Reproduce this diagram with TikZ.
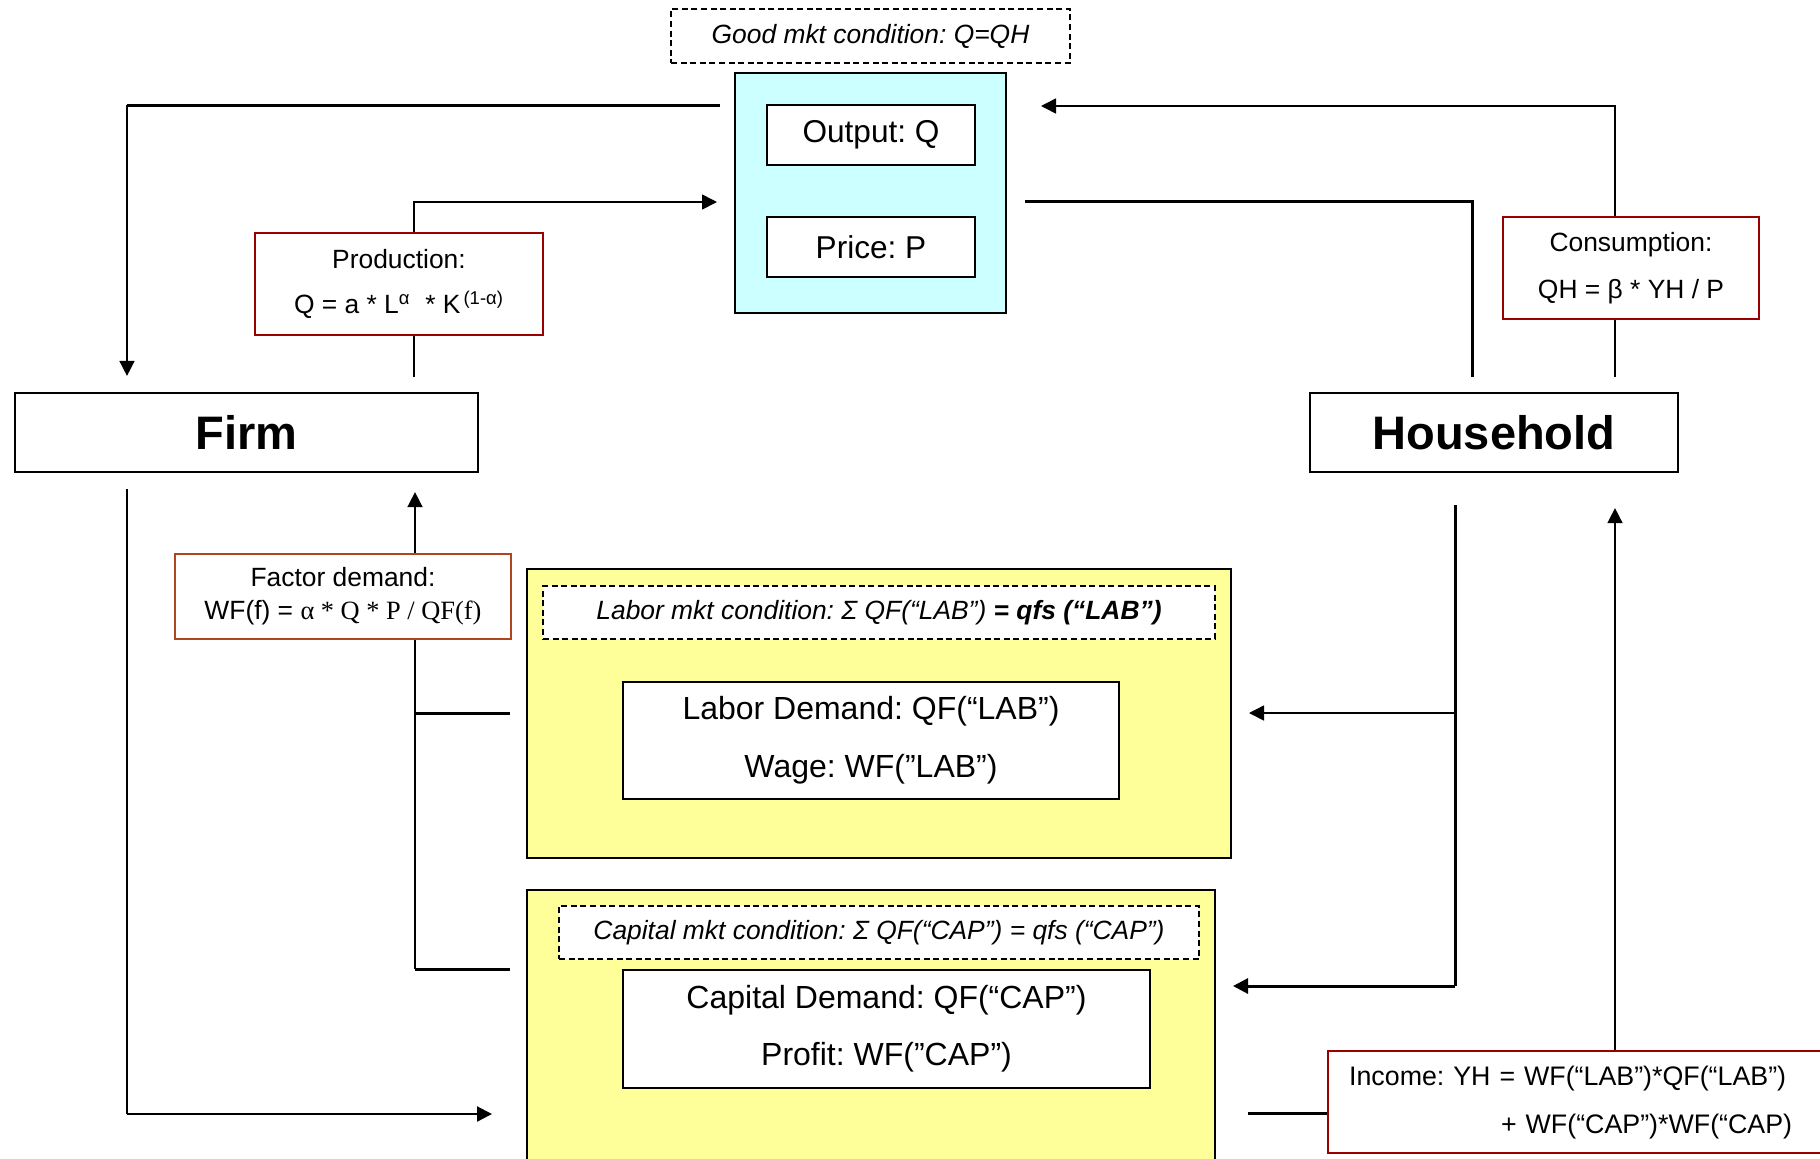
\documentclass[tikz,border=0pt]{standalone}
\usepackage{fontspec}
\setmainfont{Liberation Sans}
\newfontfamily\timesfont{Liberation Serif}
\usetikzlibrary{arrows.meta}
\frenchspacing

\definecolor{mktcyan}{HTML}{CCFFFF}
\definecolor{mktyellow}{HTML}{FFFF99}
\definecolor{eqred}{HTML}{990000}
\definecolor{eqbrown}{HTML}{B0461E}

\tikzset{
  box/.style={draw=black, line width=1pt, inner sep=0pt, anchor=center},
  agent/.style={box, line width=1.1pt, font=\fontsize{23.5}{28}\selectfont\bfseries},
  market/.style={box, fill=#1},
  varbox/.style={box, fill=white, align=center},
  condbox/.style={box, dash pattern=on 3pt off 1.8pt,
    fill=white, font=\fontsize{13.2}{16}\selectfont\itshape},
  eqbox/.style={draw=#1, line width=1.1pt, fill=white, inner sep=0pt, align=center},
  heavy/.style={line width=1.5pt, draw=black},
  light/.style={line width=0.8pt, draw=black},
  medium/.style={line width=1.1pt, draw=black},
  tip/.style={-{Triangle[length=7.5pt,width=7.5pt]}},
  size/.style 2 args={minimum width=#1, minimum height=#2},
}

\begin{document}
\begin{tikzpicture}[x=0.5pt, y=-0.5pt]
  \useasboundingbox (0,0) rectangle (1820,1158);
  \clip (0,0) rectangle (1820,1158);
  \fill[white] (0,0) rectangle (1820,1158);

  % goods market
  \node[condbox, size={199.5pt}{27pt}] (good) at (870.5,36) {Good mkt condition: Q=QH};
  \node[market=mktcyan, size={135.5pt}{120pt}] (mkt) at (870.5,193) {};
  \node[varbox, size={104pt}{30pt}, font=\fontsize{15.8}{19}\selectfont] (out) at (871,135) {Output: Q};
  \node[varbox, size={104pt}{30pt}, font=\fontsize{15.8}{19}\selectfont] (price) at (871,247) {Price: P};

  % agents
  \node[agent, size={231.5pt}{39.5pt}] (firm) at (246.5,432.5) {Firm};
  \node[agent, size={184pt}{39.5pt}] (hh) at (1494,432.5) {Household};

  % behavioural equations
  \node[eqbox=eqred, size={144pt}{51pt}, font=\fontsize{13.2}{22.5}\selectfont] (prod) at (399,284)
    {Production:\\Q = a * L\textsuperscript{α}\ \ * K\textsuperscript{\,(1-α)}};
  \node[eqbox=eqred, size={128pt}{51pt}, font=\fontsize{13.2}{23.5}\selectfont] (cons) at (1631,268)
    {Consumption:\\QH = β * YH / P};
  \node[eqbox=eqbrown, size={168pt}{42.5pt}, font=\fontsize{13.2}{16.5}\selectfont] (fdem) at (343,596.5)
    {Factor demand:\\WF(f) = {\timesfont α * Q * P / QF(f)}};

  % labour market
  \node[market=mktyellow, size={352pt}{144.5pt}] (lab) at (879,713.5) {};
  \node[condbox, size={336pt}{26.5pt}] (labc) at (879,612.5)
    {Labor mkt condition: Σ QF(“LAB”) {\bfseries = qfs (“LAB”)}};
  \node[varbox, size={248pt}{58.5pt}, font=\fontsize{16}{29}\selectfont] (labd) at (871,740.5)
    {Labor Demand: QF(“LAB”)\\Wage: WF(”LAB”)};

  % capital market
  \node[market=mktyellow, size={344pt}{150pt}] (cap) at (871,1040) {};
  \node[condbox, size={320pt}{26.5pt}] (capc) at (879,932.5)
    {Capital mkt condition: Σ QF(“CAP”) = qfs (“CAP”)};
  \node[varbox, size={263.5pt}{59pt}, font=\fontsize{16}{28.5}\selectfont] (capd) at (886.5,1029)
    {Capital Demand: QF(“CAP”)\\Profit: WF(”CAP”)};

  % household income
  \node[eqbox=eqred, anchor=north west, minimum width=251.5pt, minimum height=51pt,
        text width=230.5pt, inner xsep=10.5pt, align=left,
        font=\fontsize{13.4}{24}\selectfont] (inc) at (1327,1050)
    {Income: YH = WF(“LAB”)*QF(“LAB”)\\\hspace*{76pt}+ WF(“CAP”)*WF(“CAP)};

  % goods market -> firm
  \coordinate (a1) at (720,105);
  \coordinate (a2) at (127,105);
  \draw[heavy] (a1) -- (a2);
  \draw[light, tip, shorten >=8pt] (a2) -- (a2 |- firm.north);

  % firm -> production -> goods market
  \coordinate (b1) at (414,377);
  \coordinate (b2) at (414,202);
  \draw[light] (b1) -- (b1 |- prod.south);
  \draw[light, tip, shorten >=8.5pt] (b1 |- prod.north) -- (b2) -- (b2 -| mkt.west);

  % household -> goods market
  \coordinate (c1) at (1472,377);
  \coordinate (c2) at (1472,201);
  \draw[heavy, shorten >=9pt] (c1) -- (c2) -- (c2 -| mkt.east);

  % household -> consumption -> goods market
  \coordinate (d1) at (1615,377);
  \coordinate (d2) at (1615,106);
  \draw[light] (d1) -- (d1 |- cons.south);
  \draw[light, tip, shorten >=17pt] (d1 |- cons.north) -- (d2) -- (d2 -| mkt.east);

  % firm -> capital market
  \coordinate (e1) at (127,489);
  \coordinate (e2) at (127,1114);
  \draw[light] (e1) -- (e2);
  \draw[medium, tip, shorten >=17pt] (e2) -- (e2 -| cap.west);

  % factor markets -> factor demand -> firm
  \coordinate (f1) at (415,969);
  \coordinate (f2) at (415,713);
  \draw[light] (f1) -- (f1 |- fdem.south);
  \draw[light, tip, shorten >=9.5pt] (f1 |- fdem.north) -- (f1 |- firm.south);
  \draw[heavy, shorten >=8pt] (f2) -- (f2 -| lab.west);
  \draw[heavy, shorten >=8pt] (f1) -- (f1 -| cap.west);

  % household -> factor markets
  \coordinate (g1) at (1455,505);
  \coordinate (g2) at (1455,713);
  \coordinate (g3) at (1455,986);
  \draw[heavy] (g1) -- (g3);
  \draw[light, tip, shorten >=8.5pt] (g2) -- (g2 -| lab.east);
  \draw[heavy, tip, shorten >=8.5pt] (g3) -- (g3 -| cap.east);

  % capital market -> income -> household
  \coordinate (h1) at (1248,1113);
  \draw[heavy] (h1) -- (h1 -| inc.west);
  \draw[light, tip, shorten >=17.5pt] (d1 |- inc.north) -- (d1 |- hh.south);
\end{tikzpicture}
\end{document}
